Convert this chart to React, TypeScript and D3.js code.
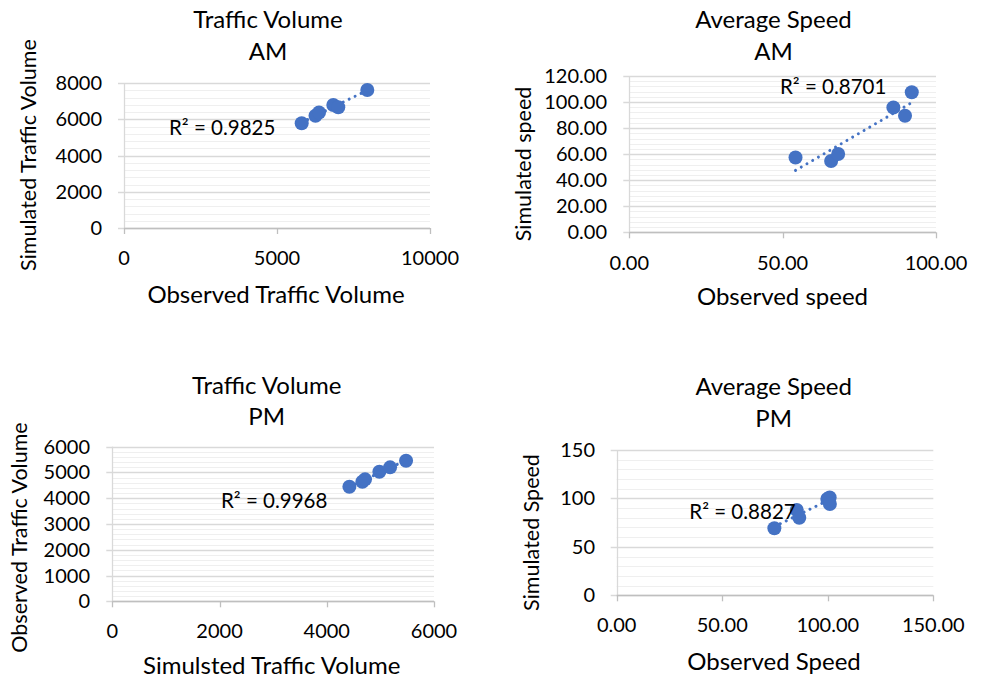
import React, { useEffect, useRef } from 'react';
import * as d3 from 'd3';

// AM traffic volume (observed vs simulated)
const amVolumeObserved = [5807, 6258, 6373, 6840, 7003, 7951];
const amVolumeSimulated = [5777, 6196, 6372, 6786, 6659, 7614];
// AM average speed
const amSpeedObserved = [54.2, 65.8, 68.1, 86.1, 89.9, 92.1];
const amSpeedSimulated = [57.4, 54.7, 60.1, 95.8, 89.5, 107.5];
// PM traffic volume (x = simulated, y = observed)
const pmVolumeSimulated = [4422, 4664, 4714, 4981, 5181, 5479];
const pmVolumeObserved = [4445, 4639, 4732, 5027, 5198, 5454];
// PM average speed
const pmSpeedObserved = [74.7, 85.3, 86.5, 99.8, 100.9, 101.0];
const pmSpeedSimulated = [69.2, 88.0, 80.1, 99.5, 101.0, 94.2];

const rSquaredLabels = ['R² = 0.9825', 'R² = 0.8701', 'R² = 0.9968', 'R² = 0.8827'];
const chartTitles = [['Traffic Volume', 'AM'], ['Average Speed', 'AM'], ['Traffic Volume', 'PM'], ['Average Speed', 'PM']];
const xAxisTitles = ['Observed Traffic Volume', 'Observed speed', 'Simulsted Traffic Volume', 'Observed Speed'];
const yAxisTitles = ['Simulated Traffic Volume', 'Simulated speed', 'Observed Traffic Volume', 'Simulated Speed'];
const xTickValues = [[0, 5000, 10000], [0, 50, 100], [0, 2000, 4000, 6000], [0, 50, 100, 150]];
const yTickValues = [[0, 2000, 4000, 6000, 8000], [0, 20, 40, 60, 80, 100, 120], [0, 1000, 2000, 3000, 4000, 5000, 6000], [0, 50, 100, 150]];
const yMinorSteps = [400, 4, 200, 10];
const xFormats = ['d', '.2f', 'd', '.2f'];
const yFormats = ['d', '.2f', 'd', 'd'];

const FONT = 'Lato, Carlito, Calibri, sans-serif';
const BLUE = '#4472C4';
const TITLE_SIZE = '24px';
const YTITLE_SIZE = '21.5px';
const TICK_SIZE = '20px';
const LABEL_SIZE = '20.5px';

// pixel layout of each panel
const layouts = [
    { xr: [124, 430], yr: [228, 83], tx: 268, t1: 28, t2: 60, yLabRight: 102, xLabBase: 265, xtX: 276, xtBase: 303, ytBase: 35.5, ytY: 155, rX: 169, rBase: 135 },
    { xr: [629.3, 936], yr: [232.3, 76], tx: 773.5, t1: 28, t2: 60, yLabRight: 607, xLabBase: 270, xtX: 782.5, xtBase: 305, ytBase: 530.5, ytY: 164, rX: 780, rBase: 94 },
    { xr: [112.3, 434], yr: [601.3, 446.7], tx: 266.7, t1: 394, t2: 425, yLabRight: 90, xLabBase: 638, xtX: 271.7, xtBase: 674, ytBase: 27, ytY: 537.5, rX: 221, rBase: 508 },
    { xr: [616.7, 933.3], yr: [595.3, 450], tx: 773.7, t1: 395, t2: 426.7, yLabRight: 595, xLabBase: 631.7, xtX: 774, xtBase: 670, ytBase: 538.5, ytY: 532.5, rX: 689.3, rBase: 519 },
];

const panelData = [
    [amVolumeObserved, amVolumeSimulated],
    [amSpeedObserved, amSpeedSimulated],
    [pmVolumeSimulated, pmVolumeObserved],
    [pmSpeedObserved, pmSpeedSimulated],
];

export default function App() {
    const ref = useRef<SVGSVGElement | null>(null);

    useEffect(() => {
        const svg = d3.select(ref.current);
        svg.selectAll('*').remove();
        layouts.forEach((lay, i) => drawPanel(svg, lay, i));
    }, []);

    const drawPanel = (svg: any, lay: any, i: number) => {
        const [xs, ys] = panelData[i];
        const xt = xTickValues[i];
        const yt = yTickValues[i];
        const xScale = d3.scaleLinear().domain([xt[0], xt[xt.length - 1]]).range(lay.xr);
        const yScale = d3.scaleLinear().domain([yt[0], yt[yt.length - 1]]).range(lay.yr);
        const g = svg.append('g');
        const x0 = lay.xr[0], x1 = lay.xr[1];
        const yBottom = yScale(yt[0]);

        // minor gridlines
        const minor = d3.range(yt[0], yt[yt.length - 1], yMinorSteps[i]).filter(v => !yt.includes(v));
        g.selectAll('line.minor').data(minor).enter().append('line')
            .attr('x1', x0).attr('x2', x1)
            .attr('y1', d => Math.round(yScale(d)) + 0.5).attr('y2', d => Math.round(yScale(d)) + 0.5)
            .attr('stroke', '#efefef').attr('stroke-width', 1);

        // major gridlines + left tick marks
        g.selectAll('line.major').data(yt).enter().append('line')
            .attr('x1', x0 - 6).attr('x2', x1)
            .attr('y1', d => Math.round(yScale(d)) + 0.5).attr('y2', d => Math.round(yScale(d)) + 0.5)
            .attr('stroke', '#d9d9d9').attr('stroke-width', 1.3);

        // vertical axis line
        g.append('line')
            .attr('x1', Math.round(x0) + 0.5).attr('x2', Math.round(x0) + 0.5)
            .attr('y1', yScale(yt[yt.length - 1])).attr('y2', yBottom)
            .attr('stroke', '#d9d9d9').attr('stroke-width', 1.3);

        // horizontal axis line and ticks
        g.append('line')
            .attr('x1', x0).attr('x2', x1)
            .attr('y1', Math.round(yBottom) + 0.5).attr('y2', Math.round(yBottom) + 0.5)
            .attr('stroke', '#bfbfbf').attr('stroke-width', 1.3);
        g.selectAll('line.xtick').data(xt).enter().append('line')
            .attr('x1', d => Math.round(xScale(d)) + 0.5).attr('x2', d => Math.round(xScale(d)) + 0.5)
            .attr('y1', yBottom).attr('y2', yBottom + 6)
            .attr('stroke', '#bfbfbf').attr('stroke-width', 1.3);

        // tick labels
        const fx = d3.format(xFormats[i]);
        const fy = d3.format(yFormats[i]);
        g.selectAll('text.ylab').data(yt).enter().append('text')
            .attr('x', lay.yLabRight).attr('y', d => yScale(d))
            .attr('dy', '0.35em').attr('text-anchor', 'end')
            .style('font-family', FONT).style('font-size', TICK_SIZE).attr('fill', '#000')
            .text(d => fy(d));
        g.selectAll('text.xlab').data(xt).enter().append('text')
            .attr('x', d => xScale(d)).attr('y', lay.xLabBase)
            .attr('text-anchor', 'middle')
            .style('font-family', FONT).style('font-size', TICK_SIZE).attr('fill', '#000')
            .text(d => fx(d));

        // titles
        chartTitles[i].forEach((t, k) => {
            g.append('text')
                .attr('x', lay.tx).attr('y', k === 0 ? lay.t1 : lay.t2)
                .attr('text-anchor', 'middle')
                .style('font-family', FONT).style('font-size', TITLE_SIZE).attr('fill', '#000')
                .text(t);
        });
        g.append('text')
            .attr('x', lay.xtX).attr('y', lay.xtBase)
            .attr('text-anchor', 'middle')
            .style('font-family', FONT).style('font-size', TITLE_SIZE).attr('fill', '#000')
            .text(xAxisTitles[i]);
        g.append('text')
            .attr('transform', `translate(${lay.ytBase},${lay.ytY}) rotate(-90)`)
            .attr('text-anchor', 'middle')
            .style('font-family', FONT).style('font-size', YTITLE_SIZE).attr('fill', '#000')
            .text(yAxisTitles[i]);

        // linear trendline
        const mx = d3.mean(xs) as number;
        const my = d3.mean(ys) as number;
        const slope = d3.sum(xs, (v, k) => (v - mx) * (ys[k] - my)) / d3.sum(xs, v => (v - mx) ** 2);
        const trendX = d3.extent(xs) as [number, number];
        g.append('line')
            .attr('x1', xScale(trendX[0])).attr('y1', yScale(my + slope * (trendX[0] - mx)))
            .attr('x2', xScale(trendX[1])).attr('y2', yScale(my + slope * (trendX[1] - mx)))
            .attr('stroke', BLUE).attr('stroke-width', 3)
            .attr('stroke-linecap', 'round').attr('stroke-dasharray', '0.01 6.6');

        // points
        g.selectAll('circle').data(xs).enter().append('circle')
            .attr('cx', (d, k) => xScale(d)).attr('cy', (d, k) => yScale(ys[k]))
            .attr('r', 7).attr('fill', BLUE);

        // R² label
        g.append('text')
            .attr('x', lay.rX).attr('y', lay.rBase)
            .style('font-family', FONT).style('font-size', LABEL_SIZE).attr('fill', '#000')
            .text(rSquaredLabels[i]);
    };

    return (
        <svg ref={ref} width={981} height={680}
            style={{ position: 'absolute', left: 0, top: 0, background: '#fff' }} />
    );
}
